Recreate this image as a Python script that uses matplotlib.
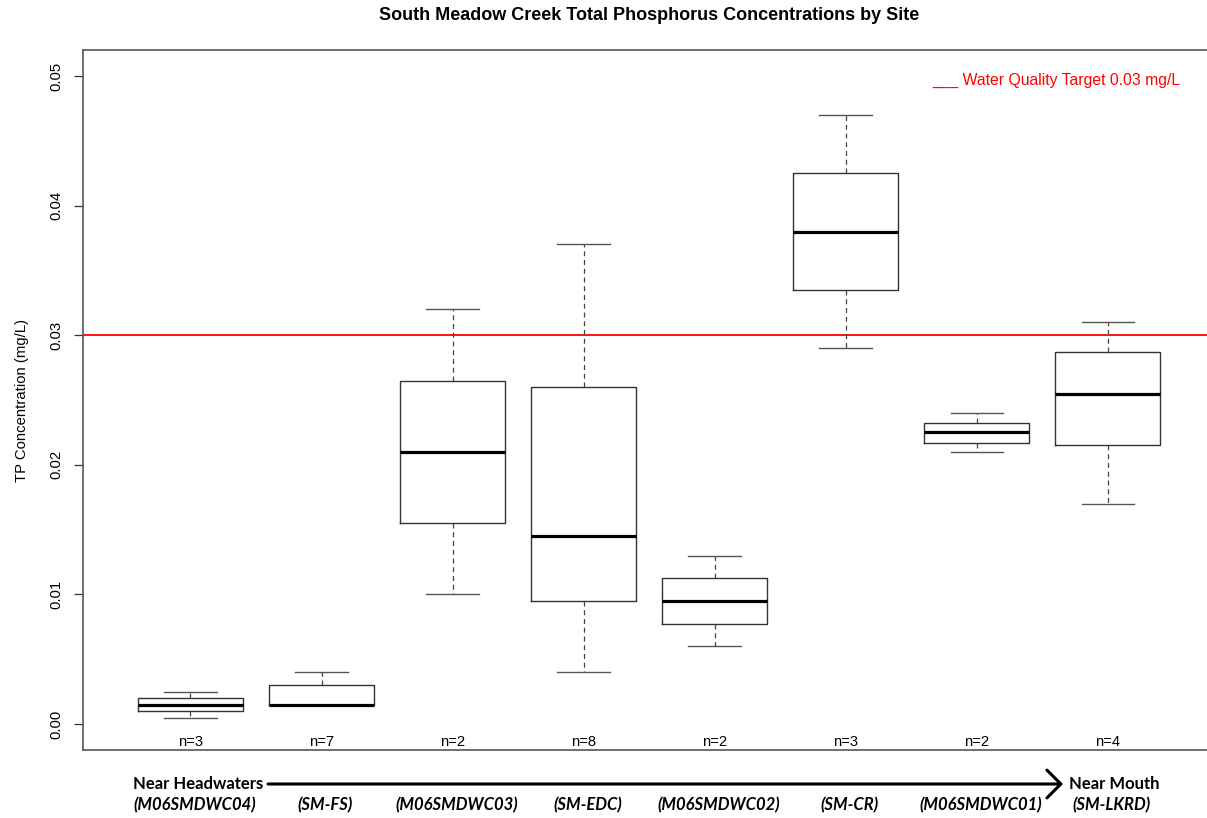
import matplotlib
matplotlib.use("Agg")
import matplotlib.pyplot as plt
from matplotlib.transforms import blended_transform_factory

# box statistics (mg/L)
site_labels = ["(M06SMDWC04)", "(SM-FS)", "(M06SMDWC03)", "(SM-EDC)",
               "(M06SMDWC02)", "(SM-CR)", "(M06SMDWC01)", "(SM-LKRD)"]
n_samples = [3, 7, 2, 8, 2, 3, 2, 4]
whisk_lo = [0.0005, 0.0015, 0.0100, 0.0040, 0.0060, 0.0290, 0.0210, 0.0170]
q1 = [0.0010, 0.0015, 0.0155, 0.0095, 0.00775, 0.0335, 0.0217, 0.0215]
med = [0.0015, 0.0015, 0.0210, 0.0145, 0.0095, 0.0380, 0.02255, 0.0255]
q3 = [0.0020, 0.0030, 0.0265, 0.0260, 0.01125, 0.0425, 0.0232, 0.0287]
whisk_hi = [0.0025, 0.0040, 0.0320, 0.0370, 0.0130, 0.0470, 0.0240, 0.0310]
target = 0.03
yticks = [0.00, 0.01, 0.02, 0.03, 0.04, 0.05]

fig = plt.figure(figsize=(12.07, 8.18), dpi=100)
ax = fig.add_axes([0.0688, 0.0831, 0.938, 0.8557])

stats = []
for i in range(len(med)):
    stats.append({"whislo": whisk_lo[i], "q1": q1[i], "med": med[i],
                  "q3": q3[i], "whishi": whisk_hi[i], "fliers": []})
pos = list(range(1, len(stats) + 1))

ax.bxp(stats, positions=pos, widths=0.8, capwidths=0.4, showfliers=False,
       boxprops=dict(color="#333333", linewidth=1.0),
       medianprops=dict(color="black", linewidth=2.3),
       whiskerprops=dict(color="#444444", linewidth=0.9, linestyle=(0, (4, 3))),
       capprops=dict(color="#555555", linewidth=1.0))

ax.axhline(target, color="red", linewidth=1.3, zorder=0)

ax.set_xlim(0.18, 8.82)
ax.set_ylim(-0.002, 0.052)
ax.set_yticks(yticks)
ax.set_yticklabels(["%.2f" % t for t in yticks], rotation=90, va="center",
                   fontsize=10.7, family="Liberation Sans")
ax.tick_params(axis="y", length=6.5, width=0.9, pad=8, color="#333333")
ax.set_xticks([])
for s in ax.spines.values():
    s.set_color("#555555")
    s.set_linewidth(1.2)

ax.set_ylabel("TP Concentration (mg/L)", fontsize=10.7, family="Liberation Sans")
ax.yaxis.set_label_coords(-0.048, 0.5)

ax.set_title("South Meadow Creek Total Phosphorus Concentrations by Site",
             fontsize=13, fontweight="bold", family="Liberation Sans",
             x=0.5, y=1.0, pad=22)

# n= counts just above the bottom axis
for p, n in zip(pos, n_samples):
    ax.text(p, -0.0014, "n=%d" % n, ha="center", va="center", fontsize=10.6,
            family="Liberation Sans")

ax.text(0.75, 0.956, "___ Water Quality Target 0.03 mg/L", color="red",
        transform=ax.transAxes, ha="left", va="center", fontsize=11.3,
        family="Liberation Sans")

# upstream -> downstream annotation below the axes
tr = blended_transform_factory(ax.transData, fig.transFigure)
y_arrow = 1 - 784 / 818.0
y_site = 1 - 805 / 818.0
for p, lab in zip(pos, site_labels):
    ax.text(p + 0.03, y_site, lab, transform=tr, ha="center", va="center",
            fontsize=12, fontweight="bold", fontstyle="italic", family="Lato",
            clip_on=False)
fig.text(133 / 1207.0, y_arrow, "Near Headwaters", ha="left", va="center",
         fontsize=12, fontweight="bold", family="Lato")
fig.text(1069 / 1207.0, y_arrow, "Near Mouth", ha="left", va="center",
         fontsize=12, fontweight="bold", family="Lato")
ax.annotate("", xy=(1063 / 1207.0, y_arrow), xytext=(268 / 1207.0, y_arrow),
            xycoords="figure fraction", textcoords="figure fraction",
            arrowprops=dict(arrowstyle="->,head_length=1.0,head_width=1.0",
                            lw=2.2, color="black", shrinkA=0, shrinkB=0))

fig.savefig("out.png", dpi=100)
